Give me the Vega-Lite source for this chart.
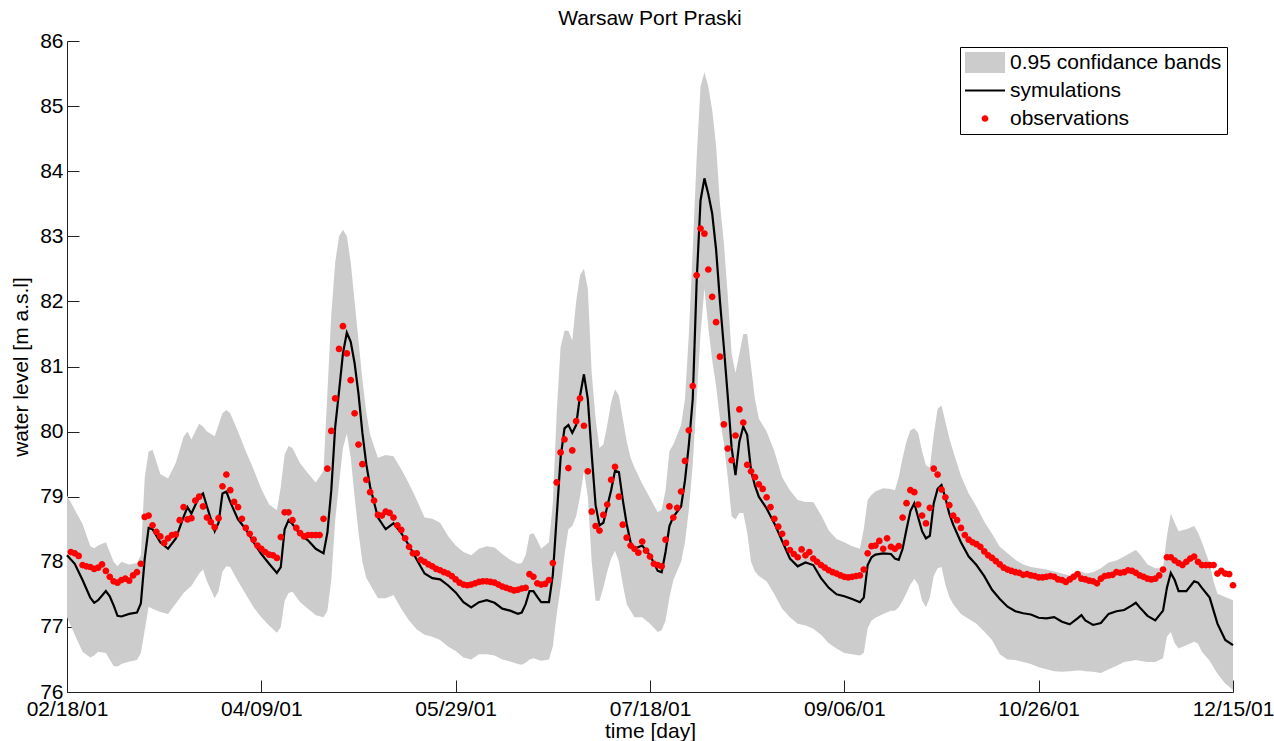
{
  "$schema": "https://vega.github.io/schema/vega-lite/v6.json",
  "width": 1166,
  "height": 651,
  "autosize": "none",
  "padding": {"left": 67, "top": 41, "right": 41, "bottom": 49},
  "background": "white",
  "title": {"text": "Warsaw Port Praski", "font": "Liberation Sans", "fontSize": 21, "fontWeight": "normal", "color": "black", "offset": 1, "anchor": "middle"},
  "config": {
    "view": {"stroke": null},
    "font": "Liberation Sans",
    "axis": {"grid": false, "labelFont": "Liberation Sans", "labelFontSize": 21, "labelColor": "black", "titleFont": "Liberation Sans", "titleFontSize": 21, "titleFontWeight": "normal", "titleColor": "black", "domainColor": "#222222", "tickColor": "#222222", "tickSize": -12, "labelFlush": false, "labelOverlap": false, "labelBound": false},
    "axisX": {"labelPadding": 18.7, "titlePadding": 1},
    "axisY": {"labelPadding": 16, "titlePadding": 8},
    "legend": {"symbolSize": 1600, "symbolStrokeWidth": 0, "symbolOpacity": 1}
  },
  "datasets": {
    "model": [
      {"day":0,"sim":78.10,"lo":77.15,"hi":79.02},{"day":2,"sim":77.97,"lo":76.88,"hi":78.80},{"day":4,"sim":77.72,"lo":76.62,"hi":78.58},{"day":6,"sim":77.45,"lo":76.53,"hi":78.24},{"day":7,"sim":77.37,"lo":76.56,"hi":78.21},{"day":8,"sim":77.41,"lo":76.62,"hi":78.25},{"day":10,"sim":77.55,"lo":76.60,"hi":78.30},{"day":11,"sim":77.47,"lo":76.50,"hi":78.15},{"day":12,"sim":77.33,"lo":76.40,"hi":78.00},{"day":13,"sim":77.17,"lo":76.39,"hi":77.93},{"day":14,"sim":77.16,"lo":76.43,"hi":78.00},{"day":16,"sim":77.20,"lo":76.47,"hi":77.96},{"day":18,"sim":77.22,"lo":76.49,"hi":77.98},{"day":19,"sim":77.36,"lo":76.60,"hi":78.10},{"day":20,"sim":78.05,"lo":76.95,"hi":79.30},{"day":21,"sim":78.52,"lo":77.31,"hi":79.69},{"day":22,"sim":78.50,"lo":77.28,"hi":79.72},{"day":24,"sim":78.30,"lo":77.23,"hi":79.35},{"day":26,"sim":78.20,"lo":77.20,"hi":79.28},{"day":28,"sim":78.36,"lo":77.36,"hi":79.52},{"day":30,"sim":78.69,"lo":77.52,"hi":79.92},{"day":31,"sim":78.84,"lo":77.58,"hi":80.00},{"day":32,"sim":78.74,"lo":77.63,"hi":79.88},{"day":34,"sim":79.00,"lo":77.82,"hi":80.12},{"day":35,"sim":79.05,"lo":77.88,"hi":80.08},{"day":36,"sim":78.85,"lo":77.70,"hi":80.00},{"day":38,"sim":78.47,"lo":77.44,"hi":79.93},{"day":39,"sim":78.60,"lo":77.55,"hi":80.10},{"day":40,"sim":79.05,"lo":77.85,"hi":80.28},{"day":41,"sim":79.08,"lo":77.93,"hi":80.33},{"day":42,"sim":78.92,"lo":77.92,"hi":80.28},{"day":44,"sim":78.65,"lo":77.70,"hi":80.00},{"day":46,"sim":78.50,"lo":77.50,"hi":79.70},{"day":48,"sim":78.30,"lo":77.30,"hi":79.42},{"day":50,"sim":78.12,"lo":77.15,"hi":79.12},{"day":52,"sim":77.97,"lo":77.02,"hi":78.88},{"day":54,"sim":77.83,"lo":76.91,"hi":78.79},{"day":55,"sim":77.92,"lo":77.00,"hi":79.15},{"day":56,"sim":78.50,"lo":77.40,"hi":79.65},{"day":57,"sim":78.64,"lo":77.52,"hi":79.78},{"day":58,"sim":78.58,"lo":77.54,"hi":79.75},{"day":60,"sim":78.42,"lo":77.38,"hi":79.51},{"day":62,"sim":78.33,"lo":77.28,"hi":79.36},{"day":64,"sim":78.20,"lo":77.18,"hi":79.22},{"day":66,"sim":78.13,"lo":77.15,"hi":79.40},{"day":67,"sim":78.45,"lo":77.25,"hi":80.60},{"day":68,"sim":79.10,"lo":77.72,"hi":81.80},{"day":69,"sim":80.07,"lo":78.64,"hi":82.60},{"day":70,"sim":80.62,"lo":79.20,"hi":83.00},{"day":71,"sim":81.20,"lo":79.75,"hi":83.10},{"day":72,"sim":81.52,"lo":79.97,"hi":83.00},{"day":73,"sim":81.38,"lo":79.60,"hi":82.60},{"day":74,"sim":81.05,"lo":79.00,"hi":82.00},{"day":75,"sim":80.58,"lo":78.45,"hi":81.40},{"day":76,"sim":79.98,"lo":78.00,"hi":80.80},{"day":77,"sim":79.50,"lo":77.75,"hi":80.30},{"day":78,"sim":79.15,"lo":77.65,"hi":79.95},{"day":80,"sim":78.68,"lo":77.44,"hi":79.60},{"day":82,"sim":78.50,"lo":77.44,"hi":79.64},{"day":84,"sim":78.59,"lo":77.49,"hi":79.62},{"day":86,"sim":78.44,"lo":77.28,"hi":79.42},{"day":88,"sim":78.25,"lo":77.10,"hi":79.20},{"day":90,"sim":78.03,"lo":76.96,"hi":78.95},{"day":92,"sim":77.82,"lo":76.88,"hi":78.68},{"day":94,"sim":77.75,"lo":76.85,"hi":78.66},{"day":96,"sim":77.73,"lo":76.80,"hi":78.60},{"day":98,"sim":77.64,"lo":76.70,"hi":78.40},{"day":100,"sim":77.53,"lo":76.63,"hi":78.25},{"day":102,"sim":77.38,"lo":76.53,"hi":78.15},{"day":104,"sim":77.30,"lo":76.50,"hi":78.10},{"day":106,"sim":77.38,"lo":76.58,"hi":78.20},{"day":108,"sim":77.41,"lo":76.58,"hi":78.24},{"day":110,"sim":77.37,"lo":76.56,"hi":78.22},{"day":112,"sim":77.28,"lo":76.50,"hi":78.12},{"day":114,"sim":77.25,"lo":76.47,"hi":78.03},{"day":116,"sim":77.20,"lo":76.43,"hi":77.97},{"day":117,"sim":77.22,"lo":76.42,"hi":77.98},{"day":118,"sim":77.35,"lo":76.45,"hi":78.10},{"day":119,"sim":77.55,"lo":76.50,"hi":78.42},{"day":120,"sim":77.55,"lo":76.52,"hi":78.44},{"day":121,"sim":77.46,"lo":76.50,"hi":78.33},{"day":122,"sim":77.38,"lo":76.48,"hi":78.20},{"day":124,"sim":77.38,"lo":76.50,"hi":78.30},{"day":125,"sim":77.80,"lo":76.70,"hi":78.90},{"day":126,"sim":78.70,"lo":77.20,"hi":80.30},{"day":127,"sim":79.60,"lo":77.60,"hi":81.30},{"day":128,"sim":80.05,"lo":78.10,"hi":81.55},{"day":129,"sim":80.10,"lo":78.50,"hi":81.55},{"day":130,"sim":79.98,"lo":78.55,"hi":81.40},{"day":131,"sim":80.10,"lo":78.70,"hi":82.00},{"day":132,"sim":80.55,"lo":79.00,"hi":82.40},{"day":133,"sim":80.88,"lo":79.40,"hi":82.50},{"day":134,"sim":80.50,"lo":79.00,"hi":82.20},{"day":135,"sim":79.65,"lo":78.00,"hi":80.90},{"day":136,"sim":78.87,"lo":77.40,"hi":80.20},{"day":137,"sim":78.56,"lo":77.40,"hi":79.75},{"day":138,"sim":78.60,"lo":77.60,"hi":79.80},{"day":139,"sim":78.85,"lo":77.85,"hi":80.10},{"day":140,"sim":79.10,"lo":78.05,"hi":80.45},{"day":141,"sim":79.40,"lo":78.17,"hi":80.65},{"day":142,"sim":79.38,"lo":78.00,"hi":80.55},{"day":143,"sim":78.95,"lo":77.65,"hi":80.20},{"day":144,"sim":78.58,"lo":77.35,"hi":79.85},{"day":145,"sim":78.30,"lo":77.25,"hi":79.60},{"day":146,"sim":78.20,"lo":77.15,"hi":79.45},{"day":148,"sim":78.25,"lo":77.15,"hi":79.20},{"day":150,"sim":78.10,"lo":77.05,"hi":78.98},{"day":152,"sim":77.86,"lo":76.92,"hi":78.76},{"day":153,"sim":77.84,"lo":76.95,"hi":78.80},{"day":154,"sim":78.15,"lo":77.10,"hi":79.10},{"day":155,"sim":78.55,"lo":77.45,"hi":79.70},{"day":156,"sim":78.69,"lo":77.72,"hi":79.80},{"day":158,"sim":78.85,"lo":78.00,"hi":80.10},{"day":159,"sim":79.25,"lo":78.30,"hi":80.50},{"day":160,"sim":79.80,"lo":78.80,"hi":81.50},{"day":161,"sim":80.50,"lo":79.50,"hi":82.80},{"day":162,"sim":82.30,"lo":80.50,"hi":84.20},{"day":163,"sim":83.55,"lo":81.50,"hi":85.30},{"day":164,"sim":83.89,"lo":82.20,"hi":85.52},{"day":165,"sim":83.65,"lo":81.60,"hi":85.30},{"day":166,"sim":83.35,"lo":81.10,"hi":84.94},{"day":167,"sim":82.80,"lo":80.70,"hi":84.40},{"day":168,"sim":82.00,"lo":80.20,"hi":83.50},{"day":169,"sim":81.30,"lo":79.82,"hi":82.90},{"day":170,"sim":80.55,"lo":79.30,"hi":82.10},{"day":171,"sim":79.75,"lo":78.70,"hi":81.20},{"day":172,"sim":79.33,"lo":78.65,"hi":80.90},{"day":173,"sim":79.85,"lo":78.75,"hi":81.20},{"day":174,"sim":80.08,"lo":78.75,"hi":81.50},{"day":175,"sim":79.95,"lo":78.45,"hi":81.50},{"day":176,"sim":79.40,"lo":78.00,"hi":81.00},{"day":177,"sim":79.17,"lo":77.85,"hi":80.50},{"day":178,"sim":79.00,"lo":77.78,"hi":80.20},{"day":180,"sim":78.82,"lo":77.70,"hi":80.00},{"day":182,"sim":78.59,"lo":77.50,"hi":79.70},{"day":184,"sim":78.32,"lo":77.28,"hi":79.30},{"day":186,"sim":78.05,"lo":77.15,"hi":79.10},{"day":188,"sim":77.93,"lo":77.05,"hi":78.95},{"day":190,"sim":77.99,"lo":77.02,"hi":78.92},{"day":192,"sim":77.95,"lo":76.97,"hi":78.92},{"day":194,"sim":77.75,"lo":76.88,"hi":78.72},{"day":196,"sim":77.60,"lo":76.75,"hi":78.48},{"day":198,"sim":77.50,"lo":76.67,"hi":78.35},{"day":200,"sim":77.47,"lo":76.60,"hi":78.30},{"day":202,"sim":77.43,"lo":76.58,"hi":78.24},{"day":204,"sim":77.38,"lo":76.56,"hi":78.20},{"day":205,"sim":77.45,"lo":76.60,"hi":78.50},{"day":206,"sim":77.95,"lo":76.98,"hi":78.95},{"day":207,"sim":78.07,"lo":77.10,"hi":79.03},{"day":208,"sim":78.11,"lo":77.14,"hi":79.08},{"day":210,"sim":78.13,"lo":77.20,"hi":79.13},{"day":212,"sim":78.12,"lo":77.25,"hi":79.12},{"day":213,"sim":78.05,"lo":77.25,"hi":79.10},{"day":214,"sim":78.03,"lo":77.30,"hi":79.30},{"day":215,"sim":78.20,"lo":77.40,"hi":79.60},{"day":216,"sim":78.50,"lo":77.52,"hi":79.85},{"day":217,"sim":78.78,"lo":77.65,"hi":80.02},{"day":218,"sim":78.90,"lo":77.74,"hi":80.05},{"day":219,"sim":78.68,"lo":77.65,"hi":79.98},{"day":220,"sim":78.47,"lo":77.40,"hi":79.70},{"day":221,"sim":78.36,"lo":77.30,"hi":79.48},{"day":222,"sim":78.40,"lo":77.45,"hi":79.45},{"day":223,"sim":78.90,"lo":77.78,"hi":79.95},{"day":224,"sim":79.12,"lo":77.90,"hi":80.35},{"day":225,"sim":79.18,"lo":77.92,"hi":80.40},{"day":226,"sim":78.98,"lo":77.65,"hi":80.15},{"day":227,"sim":78.74,"lo":77.46,"hi":79.90},{"day":228,"sim":78.57,"lo":77.35,"hi":79.70},{"day":230,"sim":78.30,"lo":77.20,"hi":79.32},{"day":232,"sim":78.08,"lo":77.12,"hi":79.05},{"day":234,"sim":77.95,"lo":77.05,"hi":78.85},{"day":236,"sim":77.78,"lo":76.93,"hi":78.62},{"day":238,"sim":77.57,"lo":76.80,"hi":78.43},{"day":240,"sim":77.43,"lo":76.58,"hi":78.23},{"day":242,"sim":77.31,"lo":76.50,"hi":78.13},{"day":244,"sim":77.24,"lo":76.49,"hi":78.03},{"day":246,"sim":77.21,"lo":76.46,"hi":77.96},{"day":248,"sim":77.19,"lo":76.43,"hi":77.92},{"day":250,"sim":77.14,"lo":76.38,"hi":77.90},{"day":252,"sim":77.13,"lo":76.35,"hi":77.88},{"day":254,"sim":77.15,"lo":76.32,"hi":77.85},{"day":256,"sim":77.08,"lo":76.31,"hi":77.82},{"day":258,"sim":77.04,"lo":76.32,"hi":77.79},{"day":260,"sim":77.13,"lo":76.33,"hi":77.86},{"day":261,"sim":77.18,"lo":76.33,"hi":77.85},{"day":262,"sim":77.10,"lo":76.32,"hi":77.82},{"day":264,"sim":77.03,"lo":76.31,"hi":77.84},{"day":266,"sim":77.06,"lo":76.29,"hi":77.90},{"day":268,"sim":77.20,"lo":76.35,"hi":77.99},{"day":270,"sim":77.24,"lo":76.40,"hi":78.02},{"day":272,"sim":77.26,"lo":76.46,"hi":78.08},{"day":274,"sim":77.33,"lo":76.48,"hi":78.15},{"day":275,"sim":77.37,"lo":76.49,"hi":78.18},{"day":276,"sim":77.30,"lo":76.48,"hi":78.12},{"day":278,"sim":77.17,"lo":76.46,"hi":77.96},{"day":280,"sim":77.10,"lo":76.46,"hi":77.90},{"day":282,"sim":77.25,"lo":76.52,"hi":77.90},{"day":283,"sim":77.60,"lo":76.85,"hi":78.40},{"day":284,"sim":77.83,"lo":76.92,"hi":78.74},{"day":285,"sim":77.72,"lo":76.75,"hi":78.60},{"day":286,"sim":77.55,"lo":76.67,"hi":78.47},{"day":288,"sim":77.55,"lo":76.72,"hi":78.50},{"day":290,"sim":77.70,"lo":76.77,"hi":78.55},{"day":291,"sim":77.68,"lo":76.74,"hi":78.45},{"day":292,"sim":77.60,"lo":76.62,"hi":78.30},{"day":294,"sim":77.45,"lo":76.48,"hi":77.97},{"day":295,"sim":77.25,"lo":76.38,"hi":77.70},{"day":296,"sim":77.05,"lo":76.28,"hi":77.51},{"day":298,"sim":76.80,"lo":76.13,"hi":77.46},{"day":300,"sim":76.72,"lo":76.03,"hi":77.41}
    ],
    "obs": [
      {"day":1,"level":78.15},{"day":2,"level":78.13},{"day":3,"level":78.09},{"day":4,"level":77.95},{"day":5,"level":77.93},{"day":6,"level":77.92},{"day":7,"level":77.89},{"day":8,"level":77.91},{"day":9,"level":77.96},{"day":10,"level":77.86},
      {"day":11,"level":77.77},{"day":12,"level":77.70},{"day":13,"level":77.68},{"day":14,"level":77.72},{"day":15,"level":77.74},{"day":16,"level":77.71},{"day":17,"level":77.79},{"day":18,"level":77.84},{"day":19,"level":77.97},{"day":20,"level":78.69},
      {"day":21,"level":78.71},{"day":22,"level":78.56},{"day":23,"level":78.46},{"day":24,"level":78.39},{"day":25,"level":78.29},{"day":26,"level":78.36},{"day":27,"level":78.41},{"day":28,"level":78.42},{"day":29,"level":78.64},{"day":30,"level":78.84},
      {"day":31,"level":78.65},{"day":32,"level":78.67},{"day":33,"level":78.94},{"day":34,"level":79.00},{"day":35,"level":78.85},{"day":36,"level":78.68},{"day":37,"level":78.61},{"day":38,"level":78.53},{"day":39,"level":78.67},{"day":40,"level":79.16},
      {"day":41,"level":79.34},{"day":42,"level":79.10},{"day":43,"level":78.92},{"day":44,"level":78.84},{"day":45,"level":78.66},{"day":46,"level":78.52},{"day":47,"level":78.43},{"day":48,"level":78.34},{"day":49,"level":78.25},{"day":50,"level":78.20},
      {"day":51,"level":78.15},{"day":52,"level":78.11},{"day":53,"level":78.10},{"day":54,"level":78.06},{"day":55,"level":78.38},{"day":56,"level":78.76},{"day":57,"level":78.76},{"day":58,"level":78.64},{"day":59,"level":78.52},{"day":60,"level":78.44},
      {"day":61,"level":78.39},{"day":62,"level":78.41},{"day":63,"level":78.41},{"day":64,"level":78.41},{"day":65,"level":78.41},{"day":66,"level":78.66},{"day":67,"level":79.43},{"day":68,"level":80.01},{"day":69,"level":80.51},{"day":70,"level":81.27},
      {"day":71,"level":81.62},{"day":72,"level":81.20},{"day":73,"level":80.79},{"day":74,"level":80.28},{"day":75,"level":79.80},{"day":76,"level":79.50},{"day":77,"level":79.26},{"day":78,"level":79.07},{"day":79,"level":78.94},{"day":80,"level":78.72},
      {"day":81,"level":78.71},{"day":82,"level":78.77},{"day":83,"level":78.75},{"day":84,"level":78.68},{"day":85,"level":78.56},{"day":86,"level":78.49},{"day":87,"level":78.36},{"day":88,"level":78.23},{"day":89,"level":78.13},{"day":90,"level":78.13},
      {"day":91,"level":78.03},{"day":92,"level":78.00},{"day":93,"level":77.96},{"day":94,"level":77.93},{"day":95,"level":77.89},{"day":96,"level":77.87},{"day":97,"level":77.84},{"day":98,"level":77.82},{"day":99,"level":77.78},{"day":100,"level":77.73},
      {"day":101,"level":77.68},{"day":102,"level":77.65},{"day":103,"level":77.64},{"day":104,"level":77.65},{"day":105,"level":77.67},{"day":106,"level":77.69},{"day":107,"level":77.70},{"day":108,"level":77.70},{"day":109,"level":77.69},{"day":110,"level":77.68},
      {"day":111,"level":77.65},{"day":112,"level":77.62},{"day":113,"level":77.60},{"day":114,"level":77.58},{"day":115,"level":77.56},{"day":116,"level":77.57},{"day":117,"level":77.59},{"day":118,"level":77.60},{"day":119,"level":77.81},{"day":120,"level":77.77},
      {"day":121,"level":77.67},{"day":122,"level":77.65},{"day":123,"level":77.66},{"day":124,"level":77.72},{"day":125,"level":77.98},{"day":126,"level":79.22},{"day":127,"level":79.68},{"day":128,"level":79.88},{"day":129,"level":79.44},{"day":130,"level":79.71},
      {"day":131,"level":80.16},{"day":132,"level":80.51},{"day":133,"level":80.09},{"day":134,"level":79.39},{"day":135,"level":78.77},{"day":136,"level":78.55},{"day":137,"level":78.48},{"day":138,"level":78.72},{"day":139,"level":78.88},{"day":140,"level":79.26},
      {"day":141,"level":79.46},{"day":142,"level":79.00},{"day":143,"level":78.57},{"day":144,"level":78.37},{"day":145,"level":78.25},{"day":146,"level":78.20},{"day":147,"level":78.14},{"day":148,"level":78.31},{"day":149,"level":78.17},{"day":150,"level":78.08},
      {"day":151,"level":77.97},{"day":152,"level":77.95},{"day":153,"level":77.93},{"day":154,"level":78.34},{"day":155,"level":78.85},{"day":156,"level":78.68},{"day":157,"level":78.83},{"day":158,"level":79.08},{"day":159,"level":79.55},{"day":160,"level":80.02},
      {"day":161,"level":80.70},{"day":162,"level":82.40},{"day":163,"level":83.12},{"day":164,"level":83.04},{"day":165,"level":82.49},{"day":166,"level":82.07},{"day":167,"level":81.68},{"day":168,"level":81.15},{"day":169,"level":80.11},{"day":170,"level":79.74},
      {"day":171,"level":79.56},{"day":172,"level":79.94},{"day":173,"level":80.34},{"day":174,"level":80.14},{"day":175,"level":79.49},{"day":176,"level":79.39},{"day":177,"level":79.30},{"day":178,"level":79.19},{"day":179,"level":79.12},{"day":180,"level":78.99},
      {"day":181,"level":78.84},{"day":182,"level":78.66},{"day":183,"level":78.54},{"day":184,"level":78.43},{"day":185,"level":78.29},{"day":186,"level":78.18},{"day":187,"level":78.12},{"day":188,"level":78.07},{"day":189,"level":78.19},{"day":190,"level":78.10},
      {"day":191,"level":78.15},{"day":192,"level":78.05},{"day":193,"level":78.00},{"day":194,"level":77.95},{"day":195,"level":77.91},{"day":196,"level":77.87},{"day":197,"level":77.84},{"day":198,"level":77.82},{"day":199,"level":77.79},{"day":200,"level":77.77},
      {"day":201,"level":77.76},{"day":202,"level":77.77},{"day":203,"level":77.78},{"day":204,"level":77.79},{"day":205,"level":77.88},{"day":206,"level":78.13},{"day":207,"level":78.24},{"day":208,"level":78.25},{"day":209,"level":78.32},{"day":210,"level":78.20},
      {"day":211,"level":78.36},{"day":212,"level":78.23},{"day":213,"level":78.20},{"day":214,"level":78.24},{"day":215,"level":78.68},{"day":216,"level":78.90},{"day":217,"level":79.10},{"day":218,"level":79.07},{"day":219,"level":78.88},{"day":220,"level":78.71},
      {"day":221,"level":78.59},{"day":222,"level":78.83},{"day":223,"level":79.43},{"day":224,"level":79.34},{"day":225,"level":79.11},{"day":226,"level":78.99},{"day":227,"level":78.87},{"day":228,"level":78.71},{"day":229,"level":78.64},{"day":230,"level":78.52},
      {"day":231,"level":78.41},{"day":232,"level":78.34},{"day":233,"level":78.30},{"day":234,"level":78.27},{"day":235,"level":78.23},{"day":236,"level":78.16},{"day":237,"level":78.10},{"day":238,"level":78.06},{"day":239,"level":78.01},{"day":240,"level":77.96},
      {"day":241,"level":77.91},{"day":242,"level":77.88},{"day":243,"level":77.86},{"day":244,"level":77.84},{"day":245,"level":77.83},{"day":246,"level":77.80},{"day":247,"level":77.81},{"day":248,"level":77.79},{"day":249,"level":77.78},{"day":250,"level":77.76},
      {"day":251,"level":77.76},{"day":252,"level":77.77},{"day":253,"level":77.78},{"day":254,"level":77.77},{"day":255,"level":77.73},{"day":256,"level":77.72},{"day":257,"level":77.69},{"day":258,"level":77.73},{"day":259,"level":77.77},{"day":260,"level":77.81},
      {"day":261,"level":77.74},{"day":262,"level":77.73},{"day":263,"level":77.71},{"day":264,"level":77.70},{"day":265,"level":77.67},{"day":266,"level":77.74},{"day":267,"level":77.78},{"day":268,"level":77.79},{"day":269,"level":77.80},{"day":270,"level":77.84},
      {"day":271,"level":77.83},{"day":272,"level":77.84},{"day":273,"level":77.87},{"day":274,"level":77.86},{"day":275,"level":77.83},{"day":276,"level":77.79},{"day":277,"level":77.77},{"day":278,"level":77.74},{"day":279,"level":77.73},{"day":280,"level":77.74},
      {"day":281,"level":77.79},{"day":282,"level":77.88},{"day":283,"level":78.07},{"day":284,"level":78.07},{"day":285,"level":78.02},{"day":286,"level":77.98},{"day":287,"level":77.95},{"day":288,"level":78.00},{"day":289,"level":78.05},{"day":290,"level":78.08},
      {"day":291,"level":78.00},{"day":292,"level":77.95},{"day":293,"level":77.95},{"day":294,"level":77.95},{"day":295,"level":77.95},{"day":296,"level":77.82},{"day":297,"level":77.86},{"day":298,"level":77.82},{"day":299,"level":77.81},{"day":300,"level":77.64}
    ]
  },
  "encoding": {
    "x": {
      "field": "day",
      "type": "quantitative",
      "scale": {"domain": [0, 300], "nice": false, "zero": false},
      "axis": {"title": "time [day]", "values": [0, 50, 100, 150, 200, 250, 300], "labelExpr": "timeFormat(datetime(2001, 1, 18 + datum.value), '%m/%d/%y')"}
    }
  },
  "layer": [
    {
      "data": {"name": "model"},
      "mark": {"type": "area", "opacity": 1},
      "encoding": {
        "y": {"field": "lo", "type": "quantitative", "title": "water level [m a.s.l]", "scale": {"domain": [76, 86], "nice": false, "zero": false}, "axis": {"values": [76, 77, 78, 79, 80, 81, 82, 83, 84, 85, 86], "format": "d"}},
        "y2": {"field": "hi"},
        "color": {
          "datum": "0.95 confidance bands",
          "type": "nominal",
          "scale": {"domain": ["0.95 confidance bands", "symulations", "observations"], "range": ["#cccccc", "#000000", "#ff0000"]},
          "legend": {"title": null, "orient": "top-right", "offset": 6, "padding": 5, "strokeColor": "black", "fillColor": "white", "cornerRadius": 0, "labelFont": "Liberation Sans", "labelFontSize": 21, "labelColor": "black", "labelLimit": 400, "labelOffset": 5, "clipHeight": 21, "rowPadding": 6}
        }
      }
    },
    {
      "data": {"name": "model"},
      "mark": {"type": "line", "strokeWidth": 2.2},
      "encoding": {
        "y": {"field": "sim", "type": "quantitative", "title": "water level [m a.s.l]"},
        "color": {"datum": "symulations", "type": "nominal"}
      }
    },
    {
      "data": {"name": "obs"},
      "mark": {"type": "point", "filled": true, "size": 1600, "opacity": 1},
      "encoding": {
        "y": {"field": "level", "type": "quantitative", "title": "water level [m a.s.l]"},
        "color": {"datum": "observations", "type": "nominal"},
        "shape": {
          "datum": "observations",
          "type": "nominal",
          "scale": {"domain": ["0.95 confidance bands", "symulations", "observations"], "range": ["M-1,-0.525H1V0.525H-1Z", "M-1,-0.055H1V0.055H-1Z", "M-0.168,0A0.168,0.168 0 1,0 0.168,0A0.168,0.168 0 1,0 -0.168,0Z"]},
          "legend": {"title": null, "orient": "top-right", "offset": 6, "padding": 5, "strokeColor": "black", "fillColor": "white", "cornerRadius": 0, "labelFont": "Liberation Sans", "labelFontSize": 21, "labelColor": "black", "labelLimit": 400, "labelOffset": 5, "clipHeight": 21, "rowPadding": 6}
        }
      }
    }
  ]
}
